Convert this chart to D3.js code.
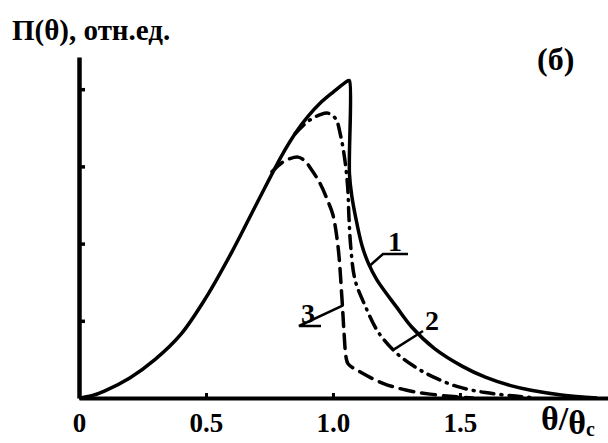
<!DOCTYPE html>
<html><head><meta charset="utf-8">
<script src="https://cdn.jsdelivr.net/npm/d3@7"></script>
<style>
html,body{margin:0;padding:0;background:#fff;}
svg text{font-family:"Liberation Serif","Times New Roman",serif;font-weight:bold;fill:#000;}
</style></head>
<body>
<script>
// ---- data (θ/θc, Π in relative units) ----
const xTicks = [0, 0.5, 1.0, 1.5];
const xTickLabels = ["0", "0.5", "1.0", "1.5"];
const yTicks = [1, 2, 3, 4];
const curve1 = [[0,0],[0.05,0.03],[0.1,0.09],[0.2,0.26],[0.3,0.5],[0.4,0.82],[0.5,1.3],[0.6,1.88],[0.7,2.52],
  [0.8,3.15],[0.85,3.42],[0.9,3.64],[0.95,3.82],[1.0,3.96],[1.06,4.11],[1.065,4.11],[1.065,2.9],[1.075,2.6],
  [1.09,2.33],[1.114,1.98],[1.14,1.74],[1.173,1.53],[1.25,1.18],[1.31,0.92],[1.4,0.64],[1.51,0.41],
  [1.6,0.27],[1.7,0.16],[1.78,0.1],[1.9,0.04],[2.04,0.0]];
const curve2 = [[0.85,3.42],[0.9,3.58],[0.95,3.67],[0.98,3.69],[1.01,3.62],[1.03,3.4],[1.047,3.08],[1.058,2.73],
  [1.063,2.34],[1.07,1.96],[1.087,1.53],[1.126,1.2],[1.177,0.86],[1.244,0.6],[1.315,0.42],[1.39,0.28],
  [1.488,0.15],[1.6,0.07],[1.72,0.025],[1.8,0.0]];
const curve3 = [[0.76,2.93],[0.8,3.05],[0.83,3.1],[0.862,3.12],[0.89,3.07],[0.909,2.99],[0.949,2.78],[0.98,2.55],
  [1.0,2.37],[1.02,1.96],[1.035,1.31],[1.043,0.88],[1.052,0.52],[1.06,0.44],[1.106,0.34],[1.197,0.19],
  [1.291,0.1],[1.382,0.05],[1.488,0.015],[1.55,0.0]];
const seriesNames = ["1", "2", "3"];

const W = 608, H = 443;
const svg = d3.select("body").append("svg").attr("width", W).attr("height", H);

const x = d3.scaleLinear().domain([0, 2.083]).range([79, 608]);
const y = d3.scaleLinear().domain([0, 4.417]).range([398, 57]);

// axes
const xAxis = d3.axisBottom(x).tickValues(xTicks).tickFormat((d,i)=>xTickLabels[i])
  .tickSizeInner(-5).tickSizeOuter(0).tickPadding(15);
const gx = svg.append("g").attr("transform", `translate(0,${y(0)})`).call(xAxis);
gx.select(".domain").attr("stroke-width", 4);
gx.selectAll(".tick line").attr("stroke-width", 3);
gx.selectAll(".tick text").attr("font-size", 27).attr("font-family", "Liberation Serif").attr("font-weight","bold").attr("fill","#000");

const yAxis = d3.axisLeft(y).tickValues(yTicks).tickFormat("").tickSizeInner(-6).tickSizeOuter(0);
const gy = svg.append("g").attr("transform", `translate(${x(0)},0)`).call(yAxis);
gy.select(".domain").attr("stroke-width", 4.5);
gy.selectAll(".tick line").attr("stroke-width", 3.5);

// curves
const line = d3.line().x(d=>x(d[0])).y(d=>y(d[1])).curve(d3.curveCatmullRom.alpha(0.5));
svg.append("path").datum(curve1).attr("d", line).attr("fill","none").attr("stroke","#000")
  .attr("stroke-width",3.5).attr("stroke-linejoin","miter");
svg.append("path").datum(curve2).attr("d", line).attr("fill","none").attr("stroke","#000")
  .attr("stroke-width",3.5).attr("stroke-linecap","round").attr("stroke-dasharray","13,7,1,7");
svg.append("path").datum(curve3).attr("d", line).attr("fill","none").attr("stroke","#000")
  .attr("stroke-width",3.5).attr("stroke-linecap","round").attr("stroke-dasharray","14,8");

// curve labels with leaders
function label(txt, tx, ty, ux1, ux2, lx, ly, cx, cy){
  svg.append("text").attr("x", tx).attr("y", ty).attr("text-anchor","middle").attr("font-size", 28).text(txt);
  const p = d3.path();
  if (ux1 !== null){ p.moveTo(ux2, ly); p.lineTo(ux1, ly); }
  else p.moveTo(lx, ly);
  p.lineTo(cx, cy);
  svg.append("path").attr("d", p.toString()).attr("fill","none").attr("stroke","#000").attr("stroke-width",2.5);
}
label(seriesNames[0], 395, 251, 383, 408, 383, 254, x(1.14), y(1.7));
label(seriesNames[1], 432, 330, null, null, 423, 331, x(1.236), y(0.62));
label(seriesNames[2], 308, 323, 299, 321, 321, 326, x(1.04), y(1.2));

// titles
svg.append("text").attr("x", 12).attr("y", 40).attr("font-size", 29).text("П(θ), отн.ед.");
svg.append("text").attr("x", 537).attr("y", 70).attr("font-size", 32).text("(б)");
const xt = svg.append("text").attr("x", 541).attr("y", 430).attr("font-size", 34);
xt.append("tspan").text("θ/");
xt.append("tspan").attr("dy", 4).text("θ");
xt.append("tspan").attr("dy", 2).attr("font-size", 20).text("c");
</script>
</body></html>
